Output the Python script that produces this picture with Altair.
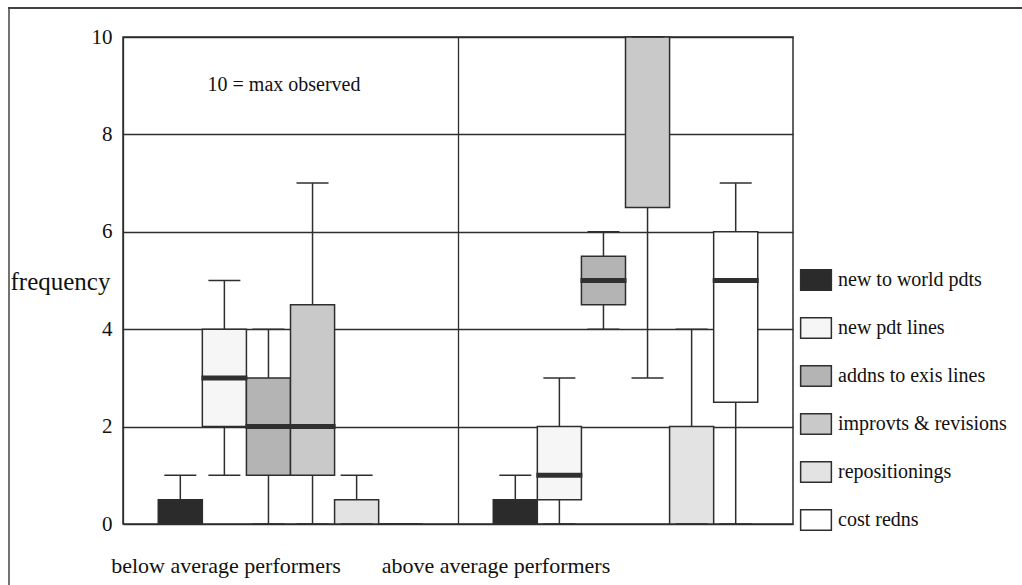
import altair as alt
import pandas as pd

groups = ["below average performers", "above average performers"]
categories = ["new to world pdts", "new pdt lines", "addns to exis lines",
              "improvts & revisions", "repositionings", "cost redns"]
fills = ["#2b2b2b", "#f6f6f6", "#b4b4b4", "#c9c9c9", "#e3e3e3", "#ffffff"]

# five-number summaries, one entry per category (None = no median bar drawn)
below_min = [0, 1, 0, 0, 0, 0]
below_q1 = [0, 2, 1, 1, 0, 0]
below_median = [None, 3, 2, 2, None, None]
below_q3 = [0.5, 4, 3, 4.5, 0.5, 0]
below_max = [1, 5, 4, 7, 1, 0]

above_min = [0, 0, 4, 3, 0, 0]
above_q1 = [0, 0.5, 4.5, 6.5, 0, 2.5]
above_median = [None, 1, 5, None, None, 5]
above_q3 = [0.5, 2, 5.5, 10, 2, 6]
above_max = [1, 3, 6, 10, 4, 7]

y_ticks = [0, 2, 4, 6, 8, 10]
note_text = "10 = max observed"
y_title = "frequency"

rows = []
for g, mins, q1s, meds, q3s, maxs in [
    (groups[0], below_min, below_q1, below_median, below_q3, below_max),
    (groups[1], above_min, above_q1, above_median, above_q3, above_max),
]:
    for c, lo, a, m, b, hi in zip(categories, mins, q1s, meds, q3s, maxs):
        rows.append({"group": g, "category": c, "min": lo, "q1": a,
                     "median": m, "q3": b, "max": hi})
df = pd.DataFrame(rows)

SERIF = "Liberation Serif"
INK = "#2e2e2e"

y_scale = alt.Scale(domain=[0, 10], nice=False, zero=True)
y_axis = alt.Axis(values=y_ticks, grid=True, gridColor=INK, gridOpacity=1,
                  gridWidth=1.3, ticks=False, domain=False,
                  labelFont=SERIF, labelFontSize=21, labelColor="#111",
                  labelPadding=11, title=y_title, titleAngle=0,
                  titleAlign="left", titleBaseline="middle",
                  titleX=-113, titleY=244, titleFont=SERIF,
                  titleFontSize=25, titleFontWeight="normal",
                  titleColor="#111")


def yq(field):
    return alt.Y(field, type="quantitative", scale=y_scale, axis=y_axis)


x_enc = alt.X("group:N",
              scale=alt.Scale(domain=groups, paddingInner=0, paddingOuter=0),
              axis=alt.Axis(title=None, labels=False, ticks=False,
                            domain=False, grid=True, gridColor=INK,
                            gridOpacity=1, gridWidth=1.3, bandPosition=0))
xo_enc = alt.XOffset("category:N",
                     scale=alt.Scale(domain=categories, paddingInner=0,
                                     paddingOuter=0.8))

base = alt.Chart(df).encode(x=x_enc, xOffset=xo_enc)

whisk_lo = base.mark_rule(color=INK, strokeWidth=1.5).encode(
    y=yq("min"), y2="q1")
whisk_hi = base.mark_rule(color=INK, strokeWidth=1.5).encode(
    y=yq("q3"), y2="max")
cap_lo = base.mark_tick(color=INK, size=32, thickness=1.5,
                        opacity=1).encode(y=yq("min"))
cap_hi = base.mark_tick(color=INK, size=32, thickness=1.5,
                        opacity=1).encode(y=yq("max"))

boxes = base.mark_bar(stroke=INK, strokeWidth=1.5, opacity=1).encode(
    y=yq("q1"), y2="q3",
    fill=alt.Fill("category:N",
                  scale=alt.Scale(domain=categories, range=fills),
                  legend=alt.Legend(title=None, orient="none",
                                    legendX=682, legendY=232,
                                    symbolType="M-1.5,-1H1.5V1H-1.5Z",
                                    symbolSize=420, symbolStrokeColor=INK,
                                    symbolStrokeWidth=1.5, symbolOpacity=1,
                                    labelFont=SERIF, labelFontSize=20,
                                    labelColor="#111", labelOffset=11,
                                    labelLimit=400,
                                    rowPadding=20, padding=0)))

medians = base.mark_tick(color="#303030", size=46, thickness=5,
                         opacity=1).encode(y=yq("median"))

note = alt.Chart(pd.DataFrame({"t": [note_text]})).mark_text(
    font=SERIF, fontSize=20, color="#111", align="center",
    baseline="middle").encode(x=alt.value(161), y=alt.value(48), text="t:N")

label_below = alt.Chart(pd.DataFrame({"t": [groups[0]]})).mark_text(
    font=SERIF, fontSize=22, color="#111", align="center",
    baseline="middle").encode(x=alt.value(103), y=alt.value(529), text="t:N")
label_above = alt.Chart(pd.DataFrame({"t": [groups[1]]})).mark_text(
    font=SERIF, fontSize=22, color="#111", align="center",
    baseline="middle").encode(x=alt.value(373), y=alt.value(529), text="t:N")

frame_top = alt.Chart(pd.DataFrame({"a": [0]})).mark_rule(
    color="#444", strokeWidth=2).encode(
    x=alt.value(-115), x2=alt.value(899), y=alt.value(-29))
frame_left = alt.Chart(pd.DataFrame({"a": [0]})).mark_rule(
    color="#444", strokeWidth=1.5).encode(
    x=alt.value(-114), y=alt.value(-29), y2=alt.value(548))

chart = alt.layer(
    boxes, whisk_lo, whisk_hi, cap_lo, cap_hi, medians,
    note, label_below, label_above, frame_top, frame_left,
).properties(
    width=670, height=487,
    autosize=alt.AutoSizeParams(type="none"),
    padding={"left": 123, "top": 37, "right": 229, "bottom": 61},
    background="white",
).configure_view(stroke=INK, strokeWidth=1.5)

chart.save("out.html", embed_options={"renderer": "svg", "actions": False})
